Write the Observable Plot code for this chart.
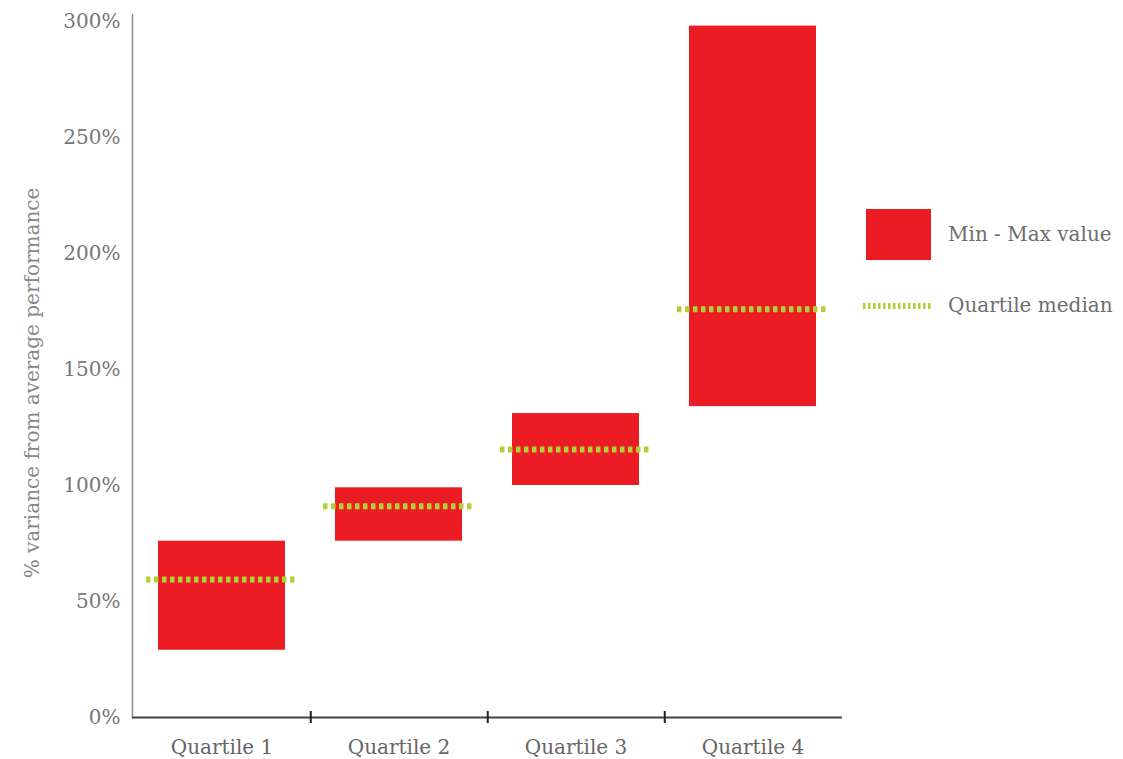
<!DOCTYPE html>
<html>
<head>
<meta charset="utf-8">
<script src="https://cdn.jsdelivr.net/npm/d3@7"></script>
<script src="https://cdn.jsdelivr.net/npm/@observablehq/plot@0.6"></script>
<style>
  body { margin: 0; background: #fff; }
  #chart svg { display: block; }
</style>
</head>
<body>
<div id="chart"></div>
<script>
// Spread of performance within each quartile: min–max range and median
const quartiles = ["Quartile 1", "Quartile 2", "Quartile 3", "Quartile 4"];
const minValues = [29, 76, 100, 134];
const maxValues = [76, 99, 131, 298];
const medianValues = [59.5, 91, 115.5, 176];
const yTicks = [0, 50, 100, 150, 200, 250, 300];
const yLabel = "% variance from average performance";
const legendItems = ["Min - Max value", "Quartile median"];

const data = quartiles.map((q, i) => ({
  quartile: q, min: minValues[i], max: maxValues[i], median: medianValues[i]
}));

const width = 1123, height = 759;
const marginLeft = 132, marginRight = 281, marginTop = 14, marginBottom = 42;
const bandwidth = (width - marginLeft - marginRight) / quartiles.length;
const font = "'DejaVu Serif', 'Liberation Serif', serif";
const red = "#ec1c24";
const green = "#aed136";

const chart = Plot.plot({
  width, height, marginLeft, marginRight, marginTop, marginBottom,
  style: { fontFamily: font, fontSize: "20px", color: "#6e6e6e", background: "#fff" },
  x: { domain: quartiles, padding: 0 },
  y: { domain: [0, 303] },
  marks: [
    Plot.barY(data, { x: "quartile", y1: "min", y2: "max", fill: red, insetLeft: 25, insetRight: 25 }),
    Plot.tickY(data, {
      x: "quartile", y: "median", stroke: green, strokeWidth: 6,
      strokeDasharray: "4.5,3.5", insetLeft: 13, insetRight: 15
    }),
    // axes
    Plot.frame({ anchor: "left", stroke: "#8a8a8a", strokeWidth: 1.5 }),
    Plot.ruleY([0], { stroke: "#444", strokeWidth: 2 }),
    Plot.ruleX(quartiles.slice(0, -1), {
      x: d => d, dx: bandwidth / 2, y1: -2.6, y2: 2.6, stroke: "#222", strokeWidth: 2
    }),
    Plot.axisX({ tickSize: 0, tickPadding: 22, label: null, fill: "#666" }),
    Plot.axisY({
      ticks: yTicks, tickFormat: d => d + "%", tickSize: 0, tickPadding: 12,
      label: null, fill: "#777"
    }),
    Plot.text([yLabel], {
      frameAnchor: "left", textAnchor: "middle", rotate: -90, dx: -100, dy: 17,
      fill: "#888", fontSize: 20
    })
  ]
});

document.getElementById("chart").append(chart);

// Legend to the right of the plot area
const svg = d3.select(chart);
const lg = svg.append("g")
  .attr("font-family", font).attr("font-size", 20)
  .attr("fill", "#6e6e6e").attr("text-anchor", "start");
lg.append("rect").attr("x", 866).attr("y", 209).attr("width", 65).attr("height", 51).attr("fill", red);
lg.append("text").attr("x", 948).attr("y", 241).text(legendItems[0]);
lg.append("line").attr("x1", 863).attr("x2", 933).attr("y1", 306).attr("y2", 306)
  .attr("stroke", green).attr("stroke-width", 6).attr("stroke-dasharray", "2.5,2.5");
lg.append("text").attr("x", 948).attr("y", 312).text(legendItems[1]);
</script>
</body>
</html>
